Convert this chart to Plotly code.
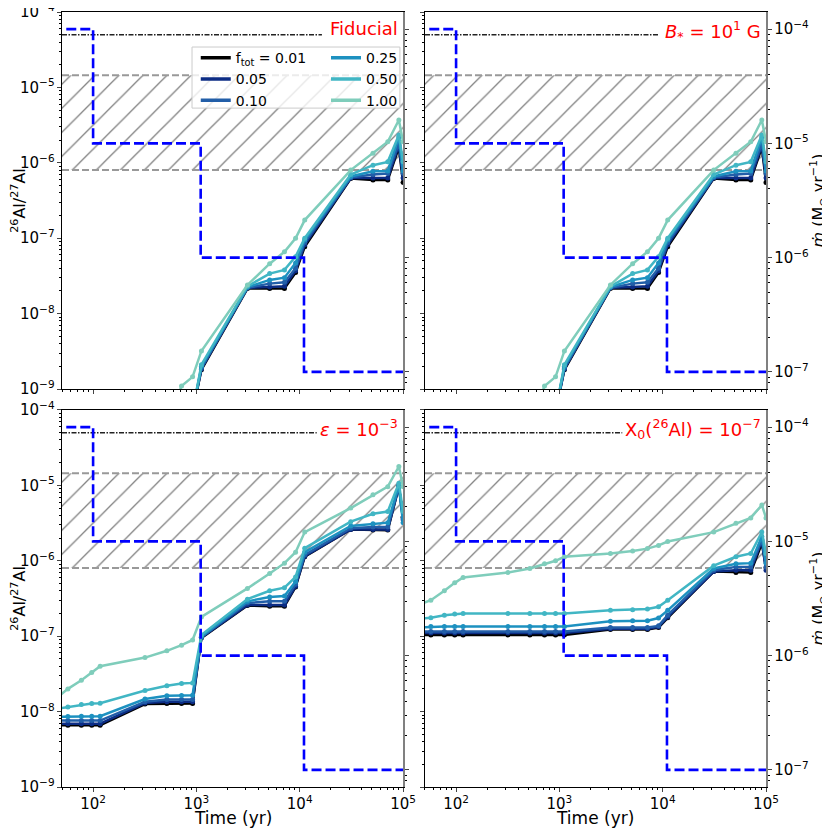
import numpy as np
import plotly.graph_objects as go
from plotly.subplots import make_subplots

# snapshot times (yr)
times = [37, 57, 77, 97, 117, 318, 518, 718, 918, 1118, 3118, 5118, 7118, 9118,
         11180, 31180, 51180, 71180, 91180, 100000]

f_tot = ['0.01', '0.05', '0.10', '0.25', '0.50', '1.00']
colours = ['#000000', '#0c2c84', '#225ea8', '#1d91c0', '#41b6c4', '#7fcdbb']

# 26Al/27Al for each f_tot (rows follow f_tot)
fiducial = [
    [1e-12, 1e-12, 1e-12, 1e-12, 1e-12, 1e-12, 1e-11, 1e-10, 5e-10, 1.8e-9, 2.15e-8, 2.15e-8,
     2.15e-8, 3.5e-8, 7.7e-8, 6.2e-7, 5.9e-7, 5.9e-7, 1.6e-6, 5.5e-7],
    [1e-12, 1e-12, 1e-12, 1e-12, 1e-12, 1e-12, 1e-11, 1e-10, 5e-10, 1.85e-9, 2.2e-8, 2.25e-8,
     2.3e-8, 3.7e-8, 8.2e-8, 6.3e-7, 6.3e-7, 6.3e-7, 1.7e-6, 6.3e-7],
    [1e-12, 1e-12, 1e-12, 1e-12, 1e-12, 1e-12, 1e-11, 1e-10, 5e-10, 1.9e-9, 2.2e-8, 2.5e-8,
     2.6e-8, 4.0e-8, 8.8e-8, 6.4e-7, 7.0e-7, 7.2e-7, 1.8e-6, 7.2e-7],
    [1e-12, 1e-12, 1e-12, 1e-12, 1e-12, 1e-12, 1e-11, 1e-10, 5e-10, 2.0e-9, 2.25e-8, 2.8e-8,
     3.0e-8, 4.7e-8, 9.5e-8, 6.6e-7, 7.7e-7, 7.8e-7, 2.2e-6, 7.8e-7],
    [1e-12, 1e-12, 1e-12, 1e-12, 1e-12, 1e-12, 1e-11, 1e-10, 5e-10, 2.1e-9, 2.3e-8, 3.4e-8,
     3.8e-8, 5.7e-8, 1.0e-7, 7.0e-7, 9.3e-7, 1.03e-6, 2.34e-6, 1.03e-6],
    [1e-12, 1e-12, 1e-12, 1e-12, 1e-12, 1e-11, 3e-10, 1.1e-9, 1.45e-9, 3.2e-9, 2.4e-8, 4.6e-8,
     6.6e-8, 1.0e-7, 1.74e-7, 8.0e-7, 1.34e-6, 1.9e-6, 3.7e-6, 1.9e-6],
]
b_field = fiducial
epsilon = [
    [6.6e-9, 6.6e-9, 6.6e-9, 6.6e-9, 6.6e-9, 1.26e-8, 1.28e-8, 1.28e-8, 1.28e-8, 9.5e-8, 2.55e-7,
     2.5e-7, 2.5e-7, 4.5e-7, 1.13e-6, 2.6e-6, 2.55e-6, 2.55e-6, 9.6e-6, 3.8e-6],
    [6.9e-9, 6.9e-9, 6.9e-9, 6.9e-9, 6.9e-9, 1.3e-8, 1.35e-8, 1.35e-8, 1.35e-8, 9.6e-8, 2.6e-7,
     2.6e-7, 2.6e-7, 4.6e-7, 1.15e-6, 2.6e-6, 2.6e-6, 2.6e-6, 9.7e-6, 3.7e-6],
    [7.6e-9, 7.6e-9, 7.6e-9, 7.6e-9, 7.6e-9, 1.35e-8, 1.45e-8, 1.45e-8, 1.45e-8, 9.7e-8, 2.75e-7,
     2.9e-7, 2.9e-7, 4.9e-7, 1.2e-6, 2.7e-6, 2.8e-6, 2.8e-6, 9.8e-6, 3.5e-6],
    [8.5e-9, 8.6e-9, 8.7e-9, 8.7e-9, 8.7e-9, 1.47e-8, 1.62e-8, 1.64e-8, 1.65e-8, 9.9e-8, 2.9e-7,
     3.3e-7, 3.4e-7, 5.3e-7, 1.3e-6, 2.9e-6, 3.1e-6, 3.2e-6, 1.0e-5, 3.2e-6],
    [1.05e-8, 1.15e-8, 1.24e-8, 1.28e-8, 1.29e-8, 1.9e-8, 2.2e-8, 2.35e-8, 2.4e-8, 1.04e-7, 3.1e-7,
     4.0e-7, 4.4e-7, 6.1e-7, 1.47e-6, 3.3e-6, 4.2e-6, 4.5e-6, 1.07e-5, 4.5e-6],
    [1.25e-8, 2.0e-8, 2.6e-8, 3.3e-8, 4.0e-8, 5.2e-8, 6.4e-8, 7.6e-8, 8.9e-8, 1.8e-7, 4.3e-7,
     6.8e-7, 9.3e-7, 1.3e-6, 2.4e-6, 5.0e-6, 7.5e-6, 9.6e-6, 1.78e-5, 9.6e-6],
]
x0_al = [
    [1.04e-7, 1.04e-7, 1.04e-7, 1.04e-7, 1.04e-7, 1.04e-7, 1.04e-7, 1.04e-7, 1.04e-7, 1.04e-7,
     1.23e-7, 1.23e-7, 1.23e-7, 1.3e-7, 1.75e-7, 7.2e-7, 7.0e-7, 7.0e-7, 1.7e-6, 8.0e-7],
    [1.1e-7, 1.1e-7, 1.1e-7, 1.1e-7, 1.1e-7, 1.1e-7, 1.1e-7, 1.1e-7, 1.1e-7, 1.1e-7,
     1.25e-7, 1.25e-7, 1.25e-7, 1.33e-7, 1.8e-7, 7.2e-7, 7.5e-7, 7.5e-7, 1.85e-6, 7.5e-7],
    [1.15e-7, 1.15e-7, 1.15e-7, 1.15e-7, 1.15e-7, 1.15e-7, 1.15e-7, 1.15e-7, 1.15e-7, 1.15e-7,
     1.3e-7, 1.3e-7, 1.3e-7, 1.37e-7, 1.9e-7, 7.5e-7, 8.3e-7, 8.3e-7, 1.9e-6, 8.3e-7],
    [1.3e-7, 1.34e-7, 1.34e-7, 1.34e-7, 1.34e-7, 1.34e-7, 1.34e-7, 1.34e-7, 1.34e-7, 1.34e-7,
     1.58e-7, 1.6e-7, 1.6e-7, 1.74e-7, 2.2e-7, 7.9e-7, 9.1e-7, 9.3e-7, 2.1e-6, 9.3e-7],
    [1.65e-7, 1.76e-7, 1.9e-7, 1.97e-7, 2.0e-7, 2.0e-7, 2.0e-7, 2.0e-7, 2.0e-7, 2.0e-7,
     2.2e-7, 2.25e-7, 2.3e-7, 2.45e-7, 3.0e-7, 8.6e-7, 1.13e-6, 1.25e-6, 2.4e-6, 1.25e-6],
    [2.4e-7, 3.0e-7, 4.0e-7, 5.1e-7, 6.0e-7, 7.0e-7, 7.9e-7, 9.1e-7, 1.0e-6, 1.13e-6,
     1.25e-6, 1.35e-6, 1.45e-6, 1.6e-6, 1.8e-6, 2.4e-6, 3.15e-6, 3.7e-6, 5.5e-6, 3.7e-6],
]

panel_data = [fiducial, b_field, epsilon, x0_al]
panel_labels = ['Fiducial', '<i>B</i><sub>*</sub> = 10<sup>1</sup> G',
                '<i>ε</i> = 10<sup>−3</sup>', 'X<sub>0</sub>(<sup>26</sup>Al) = 10<sup>−7</sup>']

# accretion rate history (Msun/yr)
mdot_times = [55, 100, 1100, 11000, 100000]
mdot_values = [1e-4, 1e-5, 1e-6, 1e-7, 1e-7]

# measured ratio band and reference line (line stops short of each panel label)
band_times = [50, 100000]
band_low = [8e-7, 8e-7]
band_high = [1.45e-5, 1.45e-5]
ref_start = 50
ref_end = [16400, 9200, 14600, 4060]
ref_ratio = [5e-5, 5e-5]

FONT = 'DejaVu Sans'

fig = make_subplots(rows=2, cols=2,
                    specs=[[{'secondary_y': True}, {'secondary_y': True}],
                           [{'secondary_y': True}, {'secondary_y': True}]],
                    horizontal_spacing=0.03125, vertical_spacing=0.0271)

cells = [(1, 1), (1, 2), (2, 1), (2, 2)]
x_domains = {1: [0, 0.4844], 2: [0.5156, 1]}
y_domains = {1: [0.5135, 1], 2: [0, 0.4865]}
tick_font = dict(size=12, family=FONT, color='black')
minor_ticks = dict(ticks='outside', ticklen=2, tickcolor='black')

for k, (row, col) in enumerate(cells):
    # hatched band
    fig.add_trace(go.Scatter(x=band_times, y=band_low, mode='lines', showlegend=False,
                             line=dict(color='#999999', width=2, dash='7px,3px')),
                  row=row, col=col, secondary_y=False)
    fig.add_trace(go.Scatter(x=band_times, y=band_high, mode='lines', showlegend=False,
                             line=dict(color='#999999', width=2, dash='7px,3px'),
                             fill='tonexty', fillcolor='rgba(0,0,0,0)',
                             fillpattern=dict(shape='/', fgcolor='#000000',
                                              bgcolor='rgba(0,0,0,0)', size=17,
                                              solidity=0.075)),
                  row=row, col=col, secondary_y=False)
    fig.add_trace(go.Scatter(x=[ref_start, ref_end[k]], y=ref_ratio, mode='lines',
                             showlegend=False,
                             line=dict(color='#222222', width=1.5, dash='5px,1.5px,1.5px,1.5px')),
                  row=row, col=col, secondary_y=False)

    for i, vals in enumerate(panel_data[k]):
        fig.add_trace(go.Scatter(
            x=times, y=vals, mode='lines+markers', showlegend=False,
            line=dict(color=colours[i], width=2.5),
            marker=dict(color=colours[i], size=5)),
            row=row, col=col, secondary_y=False)

    fig.add_trace(go.Scatter(x=mdot_times, y=mdot_values, mode='lines', line_shape='hv',
                             showlegend=False,
                             line=dict(color='#0000ff', width=2.6, dash='10px,4px')),
                  row=row, col=col, secondary_y=True)

    fig.update_xaxes(type='log', range=[np.log10(50), 5], dtick=1, exponentformat='power',
                     showline=True, linecolor='black', mirror=True, ticks='outside',
                     ticklen=4, minor=minor_ticks, showgrid=False, tickfont=tick_font,
                     showticklabels=(row == 2), automargin=False, ticklabeloverflow='allow',
                     domain=x_domains[col], row=row, col=col)

    fig.update_yaxes(type='log', range=[-9, -4], dtick=1, exponentformat='power',
                     showline=True, linecolor='black', ticks='outside', ticklen=4,
                     minor=minor_ticks, showgrid=False, tickfont=tick_font,
                     showticklabels=(col == 1), automargin=False, ticklabeloverflow='allow',
                     domain=y_domains[row], row=row, col=col, secondary_y=False)
    if col == 1:
        fig.update_yaxes(title=dict(text='<sup>26</sup>Al/<sup>27</sup>Al',
                                    font=dict(size=16, family=FONT), standoff=4),
                         row=row, col=col, secondary_y=False)

    fig.update_yaxes(type='log', range=[-7.15, -3.85], dtick=1, exponentformat='power',
                     showline=True, linecolor='#808080', linewidth=1.5, ticks='outside',
                     ticklen=4, minor=minor_ticks, showgrid=False, tickfont=tick_font,
                     showticklabels=(col == 2), automargin=False, ticklabeloverflow='allow',
                     domain=y_domains[row], row=row, col=col, secondary_y=True)
    if col == 2:
        fig.update_yaxes(title=dict(text='<i>ṁ</i> (M<sub>⊙</sub> yr<sup>−1</sup>)',
                                    font=dict(size=16, family=FONT), standoff=2),
                         row=row, col=col, secondary_y=True)

# legend entries: plain lines, no markers
for i, colour in enumerate(colours):
    name = 'f<sub>tot</sub> = 0.01' if i == 0 else f_tot[i]
    fig.add_trace(go.Scatter(x=[None], y=[None], mode='lines', name=name,
                             line=dict(color=colour, width=3.5),
                             legend='legend' if i < 3 else 'legend2'),
                  row=1, col=1, secondary_y=False)

# panel labels
domain_refs = [('x', 'y'), ('x2', 'y3'), ('x3', 'y5'), ('x4', 'y7')]
for (xr, yr), label in zip(domain_refs, panel_labels):
    fig.add_annotation(text=label, xref=xr + ' domain', yref=yr + ' domain', x=0.99,
                       y=0.99, xanchor='right', yanchor='top', showarrow=False,
                       font=dict(color='red', size=18, family=FONT))

# x-axis titles on the bottom row
for xr in ['x3', 'x4']:
    fig.add_annotation(text='Time (yr)', xref=xr + ' domain', yref='paper', x=0.5,
                       y=-0.04, xanchor='center', yanchor='middle', showarrow=False,
                       font=dict(size=17, family=FONT, color='black'))

# legend frame
fig.add_shape(type='rect', xref='paper', yref='paper', x0=0.1847, x1=0.480, y0=0.876,
              y1=0.9548, fillcolor='rgba(255,255,255,0.8)', line=dict(color='#cccccc', width=1),
              layer='above')

legend_style = dict(yanchor='top', xanchor='left', y=0.961, bgcolor='rgba(0,0,0,0)',
                    font=dict(size=14, family=FONT, color='black'), itemwidth=30,
                    tracegroupgap=0, traceorder='normal')
# page body adds an 8px offset, so the figure is drawn 8px smaller
fig.update_layout(
    width=822, height=822, plot_bgcolor='white', paper_bgcolor='white',
    font=dict(family=FONT, color='black'),
    margin=dict(l=54, r=64, t=4, b=43),
    legend=dict(x=0.19, **legend_style),
    legend2=dict(x=0.375, **legend_style),
)

fig.write_html('out.html')
